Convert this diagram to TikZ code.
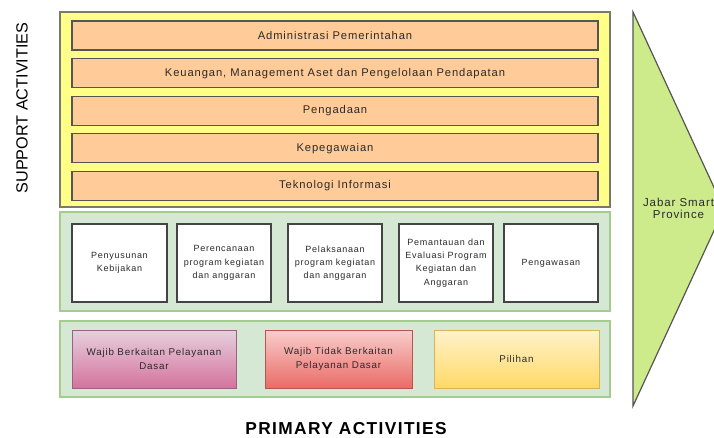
\documentclass[tikz,border=0pt]{standalone}
\usepackage{fontspec}
\setmainfont{Liberation Sans}
\newfontfamily\spacedfont[LetterSpace=8]{Liberation Sans}
\usetikzlibrary{positioning}

\definecolor{supfill}{HTML}{FFFF88}
\definecolor{supline}{HTML}{7A7A6A}
\definecolor{barfill}{HTML}{FFCC99}
\definecolor{barline}{HTML}{555555}
\definecolor{grnfill}{HTML}{D5E8D4}
\definecolor{grnline}{HTML}{A3CC8E}
\definecolor{trifill}{HTML}{CDEB8B}
\definecolor{txtcol}{HTML}{2A2A2A}
\definecolor{pinkline}{HTML}{996185}
\definecolor{pinktop}{HTML}{E6D0DE}
\definecolor{pinkbot}{HTML}{D5739D}
\definecolor{redline}{HTML}{B85450}
\definecolor{redtop}{HTML}{F8CECC}
\definecolor{redbot}{HTML}{EA6B66}
\definecolor{goldline}{HTML}{D6B656}
\definecolor{goldtop}{HTML}{FFF2CC}
\definecolor{goldbot}{HTML}{FFD966}

\tikzset{
  layer/.style={draw=grnline, fill=grnfill, line width=1.2pt, minimum width=550pt},
  bar/.style={draw=barline, fill=barfill, line width=1.1pt, minimum width=526pt,
    minimum height=29pt, text=txtcol, font=\spacedfont\fontsize{11.2}{13}\selectfont},
  proc/.style={draw=barline!80!black, fill=white, line width=1.2pt, minimum height=78pt,
    align=center, text=txtcol, font=\spacedfont\fontsize{9}{13.3}\selectfont},
  urusan/.style={line width=1pt, minimum height=58pt, align=center, text=txtcol,
    font=\spacedfont\fontsize{9.8}{13.3}\selectfont},
}

\begin{document}
\begin{tikzpicture}[x=1pt,y=-1pt,node distance=7.5pt,inner sep=0pt]
  \clip (0,0) rectangle (714,437);
  \useasboundingbox (0,0) rectangle (714,437);

  % support activities
  \node[draw=supline, fill=supfill, line width=1.2pt, minimum width=550pt, minimum height=195pt] (support) at (335,109.5) {};
  \node[bar] (adm) at (335,35.5) {Administrasi Pemerintahan};
  \node[bar, below=of adm] (keu) {Keuangan, Management Aset dan Pengelolaan Pendapatan};
  \node[bar, below=of keu] (pgd) {Pengadaan};
  \node[bar, below=of pgd] (pgw) {Kepegawaian};
  \node[bar, below=of pgw] (tik) {Teknologi Informasi};

  % proses
  \node[layer, minimum height=99pt] (proses) at (335,261.5) {};
  \node[proc, minimum width=95pt] (p1) at (119.5,263) {Penyusunan\\Kebijakan};
  \node[proc, minimum width=94pt] (p2) at (224,263) {Perencanaan\\program kegiatan\\dan anggaran};
  \node[proc, minimum width=94pt] (p3) at (335,263) {Pelaksanaan\\program kegiatan\\dan anggaran};
  \node[proc, minimum width=94pt] (p4) at (446,263) {Pemantauan dan\\Evaluasi Program\\Kegiatan dan\\Anggaran};
  \node[proc, minimum width=94pt] (p5) at (551,263) {Pengawasan};

  % urusan
  \node[layer, minimum height=76pt] (urusan) at (335,359) {};
  \node[urusan, draw=pinkline, top color=pinktop, bottom color=pinkbot, minimum width=164pt] (u1) at (154,359) {Wajib Berkaitan Pelayanan\\Dasar};
  \node[urusan, draw=redline, top color=redtop, bottom color=redbot, minimum width=147pt] (u2) at (338.5,359) {Wajib Tidak Berkaitan\\Pelayanan Dasar};
  \node[urusan, draw=goldline, top color=goldtop, bottom color=goldbot, minimum width=165pt] (u3) at (516.5,359) {Pilihan};

  % value
  \draw[draw=barline, fill=trifill, line width=1.2pt] (633,12) -- (724,209) -- (633,406) -- cycle;
  \node[align=center, text=txtcol, font=\spacedfont\fontsize{11.5}{11.5}\selectfont] (jsp) at (678.5,208.5) {Jabar Smart\\Province};

  \node[rotate=90, font=\fontsize{16.2}{18}\selectfont] (sa) at (22,108) {SUPPORT ACTIVITIES};
  \node[anchor=base, font=\spacedfont\bfseries\fontsize{17.3}{19}\selectfont] (pa) at (346,434.5) {PRIMARY ACTIVITIES};
\end{tikzpicture}
\end{document}
